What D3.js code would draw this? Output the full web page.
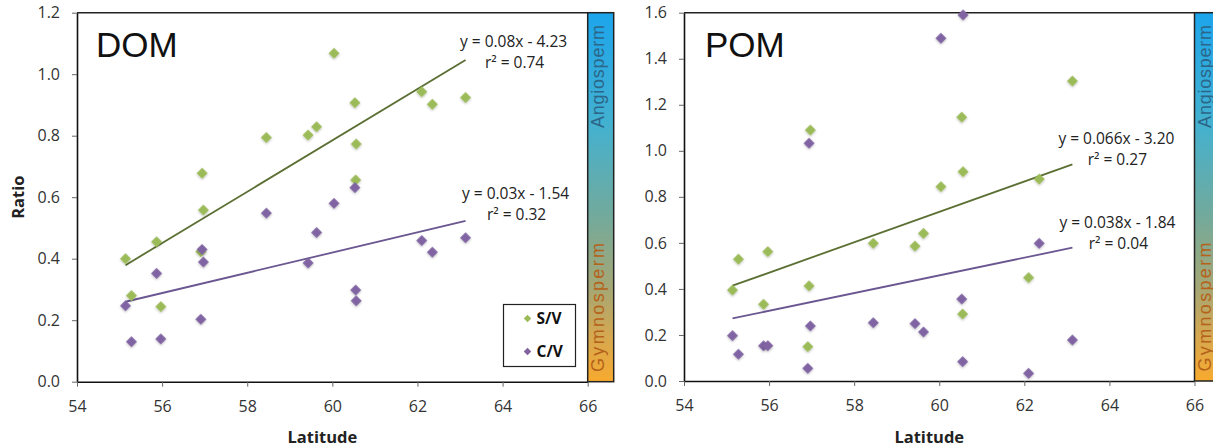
<!DOCTYPE html>
<html>
<head>
<meta charset="utf-8">
<script src="https://cdn.jsdelivr.net/npm/d3@7"></script>
<style>
  body { margin: 0; background: #fff; }
  svg { display: block; font-family: "Open Sans", sans-serif; }
</style>
</head>
<body>
<script>
// site latitudes (shared by both panels)
var siteLat = [55.14, 55.28, 55.87, 55.97, 56.91, 56.94, 56.97, 58.45, 59.43, 59.63, 60.04, 60.53, 60.55, 60.56, 62.10, 62.35, 63.13]

// DOM ratios
var domSV = [0.40, 0.28, 0.455, 0.244, 0.423, 0.678, 0.558, 0.794, 0.802, 0.829, 1.068, 0.907, 0.656, 0.773, 0.943, 0.902, 0.924]
var domCV = [0.247, 0.130, 0.352, 0.139, 0.203, 0.430, 0.389, 0.548, 0.386, 0.485, 0.580, 0.631, 0.298, 0.263, 0.459, 0.421, 0.468]

// POM ratios
var pomSV = [0.395, 0.529, 0.333, 0.562, 0.149, 0.413, 1.090, 0.598, 0.586, 0.641, 0.844, 1.146, 0.291, 0.909, 0.449, 0.877, 1.303]
var pomCV = [0.197, 0.116, 0.153, 0.153, 0.055, 1.033, 0.239, 0.253, 0.249, 0.213, 1.489, 0.356, 0.084, 1.590, 0.033, 0.598, 0.178]

// trend lines, value at first and last site
var domTrendSV = [0.379, 1.046]
var domTrendCV = [0.260, 0.523]
var pomTrendSV = [0.414, 0.941]
var pomTrendCV = [0.272, 0.579]

var domEqSV = ["y = 0.08x - 4.23", "r\u00b2 = 0.74"]
var domEqCV = ["y = 0.03x - 1.54", "r\u00b2 = 0.32"]
var pomEqSV = ["y = 0.066x - 3.20", "r\u00b2 = 0.27"]
var pomEqCV = ["y = 0.038x - 1.84", "r\u00b2 = 0.04"]

var xTicks = [54, 56, 58, 60, 62, 64, 66]
var seriesNames = ["S/V", "C/V"]

var svColor = "#9bbb59"
var cvColor = "#8064a2"
var svLineColor = "#5b6f33"
var cvLineColor = "#6a5690"

var svg = d3.select("body").append("svg")
    .attr("width", 1213)
    .attr("height", 448)

var defs = svg.append("defs")

var grad = defs.append("linearGradient")
    .attr("id", "bar")
    .attr("x1", 0).attr("y1", 0).attr("x2", 0).attr("y2", 1)
var stops = [[0, "#1ca5ec"], [0.3, "#43b1d0"], [0.55, "#72aa9c"], [0.75, "#a6a774"], [0.88, "#d6a850"], [1, "#f8aa2e"]]
stops.forEach(function (s) {
    grad.append("stop").attr("offset", s[0]).attr("stop-color", s[1])
})

var shadow = defs.append("filter").attr("id", "glow")
    .attr("x", "-50%").attr("y", "-50%").attr("width", "200%").attr("height", "200%")
shadow.append("feDropShadow")
    .attr("dx", 0.8).attr("dy", 0.8).attr("stdDeviation", 1.2)
    .attr("flood-color", "#000").attr("flood-opacity", 0.25)

var diamond = d3.symbol().type(d3.symbolSquare).size(60)
var smallDiamond = d3.symbol().type(d3.symbolSquare).size(28)

function drawPanel(p) {
    var x = d3.scaleLinear().domain([54, 66]).range([p.left, p.right])
    var y = d3.scaleLinear().domain([0, p.yMax]).range([p.bottom, p.top])
    var g = svg.append("g")

    // colour bar on right side
    g.append("rect")
        .attr("x", p.right).attr("y", p.top)
        .attr("width", 26).attr("height", p.bottom - p.top)
        .attr("fill", "url(#bar)")
        .attr("stroke", "#222").attr("stroke-width", 1.5)

    g.append("text")
        .attr("transform", "translate(" + (p.right + 16) + "," + y(p.yMax * 0.827) + ") rotate(-90)")
        .attr("text-anchor", "middle")
        .attr("font-family", "Liberation Sans, Arial, sans-serif")
        .attr("font-size", 18)
        .attr("textLength", 103)
        .attr("fill", "#2c6688")
        .text("Angiosperm")

    g.append("text")
        .attr("transform", "translate(" + (p.right + 16) + "," + y(p.yMax * 0.201) + ") rotate(-90)")
        .attr("text-anchor", "middle")
        .attr("font-family", "Liberation Sans, Arial, sans-serif")
        .attr("font-size", 18)
        .attr("textLength", 129)
        .attr("fill", "#b5621a")
        .text("Gymnosperm")

    // top border
    g.append("line")
        .attr("x1", p.left).attr("x2", p.right)
        .attr("y1", p.top).attr("y2", p.top)
        .attr("stroke", "#222").attr("stroke-width", 1.5)

    var yAxis = g.append("g")
        .attr("transform", "translate(" + p.left + ",0)")
        .call(d3.axisLeft(y)
            .tickValues(d3.range(0, p.yMax + 0.01, 0.2))
            .tickFormat(d3.format(".1f"))
            .tickSize(5).tickPadding(12).tickSizeOuter(0))

    var xAxis = g.append("g")
        .attr("transform", "translate(0," + p.bottom + ")")
        .call(d3.axisBottom(x)
            .tickValues(xTicks)
            .tickSize(5).tickPadding(14).tickSizeOuter(0))

    ;[yAxis, xAxis].forEach(function (a) {
        a.select(".domain").attr("stroke", "#111").attr("stroke-width", 1.6)
        a.selectAll(".tick line").attr("stroke", "#666")
        a.selectAll("text")
            .attr("font-family", "Open Sans, sans-serif")
            .attr("font-size", 16)
            .attr("fill", "#333")
    })

    g.append("text")
        .attr("x", p.left - 59).attr("y", (p.top + p.bottom) / 2)
        .attr("transform", "rotate(-90," + (p.left - 59) + "," + ((p.top + p.bottom) / 2) + ")")
        .attr("text-anchor", "middle")
        .attr("font-weight", "bold")
        .attr("font-size", 16.5)
        .attr("fill", "#222")
        .attr("dy", "0.35em")
        .text(p.yLabel)

    g.append("text")
        .attr("x", (p.left + p.right) / 2 - 10).attr("y", 443)
        .attr("text-anchor", "middle")
        .attr("font-weight", "bold")
        .attr("font-size", 16.5)
        .attr("fill", "#222")
        .text("Latitude")

    g.append("text")
        .attr("x", p.left + p.titleDx).attr("y", 56.7)
        .attr("font-family", "Liberation Sans, Arial, sans-serif")
        .attr("font-size", 35)
        .attr("fill", "#111")
        .text(p.title)

    var first = siteLat[0], last = siteLat[siteLat.length - 1]

    // trend lines
    p.series.forEach(function (s) {
        g.append("line")
            .attr("x1", x(first)).attr("y1", y(s.trend[0]))
            .attr("x2", x(last)).attr("y2", y(s.trend[1]))
            .attr("stroke", s.lineColor).attr("stroke-width", 1.8)
    })

    // points
    p.series.forEach(function (s) {
        g.selectAll(null)
            .data(s.values)
            .enter()
            .append("path")
            .attr("d", diamond)
            .attr("transform", function (d, i) {
                return "translate(" + x(siteLat[i]) + "," + y(d) + ") rotate(45)"
            })
            .attr("fill", s.color)
            .attr("filter", "url(#glow)")
    })

    // equations, hung off the end of each trend line
    p.series.forEach(function (s) {
        var ex = x(last) + s.eqDx
        var ey = y(s.trend[1])
        g.append("text")
            .attr("x", ex).attr("y", ey + s.eqDy)
            .attr("text-anchor", "middle")
            .attr("font-size", 15.5)
            .attr("fill", "#222")
            .text(s.eq[0])
        g.append("text")
            .attr("x", ex + 1).attr("y", ey + s.eqDy + 21)
            .attr("text-anchor", "middle")
            .attr("font-size", 15.5)
            .attr("fill", "#222")
            .text(s.eq[1])
    })

    if (p.legend) {
        var lg = g.append("g").attr("transform", "translate(503.5,304.5)")
        lg.append("rect")
            .attr("width", 72).attr("height", 62)
            .attr("fill", "#fff").attr("stroke", "#222").attr("stroke-width", 1.2)
        seriesNames.forEach(function (name, i) {
            lg.append("path")
                .attr("d", smallDiamond)
                .attr("transform", "translate(24," + (14 + i * 33) + ") rotate(45)")
                .attr("fill", p.series[i].color)
            lg.append("text")
                .attr("x", 33).attr("y", 14 + i * 33)
                .attr("dy", "0.36em")
                .attr("font-weight", "bold")
                .attr("font-size", 15.5)
                .attr("fill", "#111")
                .text(name)
        })
    }
}

drawPanel({
    left: 77, right: 587.7, top: 12.7, bottom: 381.7, yMax: 1.2,
    title: "DOM", titleDx: 19, yLabel: "Ratio", legend: true,
    series: [
        { values: domSV, trend: domTrendSV, color: svColor, lineColor: svLineColor, eq: domEqSV, eqDx: 48, eqDy: -13 },
        { values: domCV, trend: domTrendCV, color: cvColor, lineColor: cvLineColor, eq: domEqCV, eqDx: 50, eqDy: -22 }
    ]
})

drawPanel({
    left: 684, right: 1194.5, top: 12.7, bottom: 381, yMax: 1.6,
    title: "POM", titleDx: 21, yLabel: "", legend: false,
    series: [
        { values: pomSV, trend: pomTrendSV, color: svColor, lineColor: svLineColor, eq: pomEqSV, eqDx: 44, eqDy: -20 },
        { values: pomCV, trend: pomTrendCV, color: cvColor, lineColor: cvLineColor, eq: pomEqCV, eqDx: 45, eqDy: -20 }
    ]
})
</script>
</body>
</html>
